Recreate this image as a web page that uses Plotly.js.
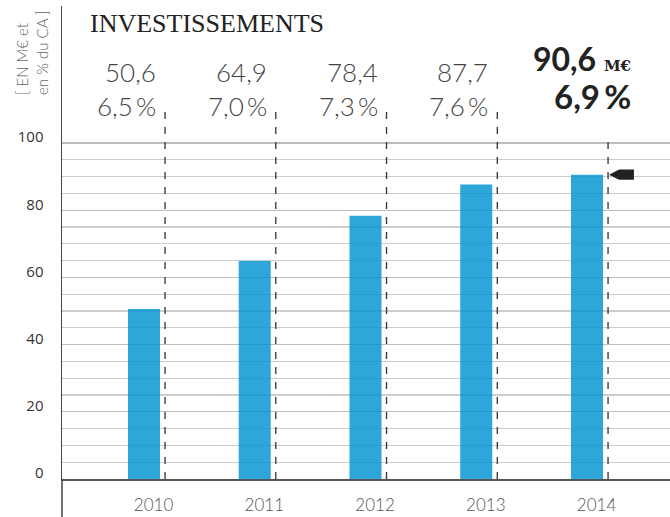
<!DOCTYPE html>
<html>
<head>
<meta charset="utf-8">
<script src="https://cdn.plot.ly/plotly-3.0.1.min.js"></script>
<style>html,body{margin:0;padding:0;background:#fff;}#chart{width:670px;height:517px;}</style>
</head>
<body>
<div id="chart"></div>
<script>
// ---- data ----
const years = ['2010', '2011', '2012', '2013', '2014'];
const invest = [50.6, 64.9, 78.4, 87.7, 90.6];
const investLabels = ['50,6', '64,9', '78,4', '87,7', '90,6'];
const pctLabels = ['6,5\u2009%', '7,0\u2009%', '7,3\u2009%', '7,6\u2009%', '6,9\u2009%'];
const yTickVals = [0, 20, 40, 60, 80, 100];
const yTickText = ['0', '20', '40', '60', '80', '100'];
const titleText = 'INVESTISSEMENTS';
const unitText = '[ EN M€ et<br>en % du CA ]';

// ---- style / layout constants ----
const xs = years.map((_, i) => i);
const dashOff = 0.19;      // dashed separator offset from bar centre
const labelOff = 0.086;    // year label offset from bar centre
const dashTop = 110.4;
const dashTopLast = 102.4;
const last = years.length - 1;

const minorVals = [];
for (let v = 5; v < 100; v += 5) if (v % 20 !== 0) minorVals.push(v);

const shapes = [];
xs.forEach((x, i) => {
  shapes.push({
    type: 'line', xref: 'x', yref: 'y',
    x0: x + dashOff, x1: x + dashOff, y0: 0, y1: i === last ? dashTopLast : dashTop,
    line: {color: '#333', width: 1.3, dash: '7px,8px'}, layer: 'above'
  });
});
// extension of the vertical axis below zero
shapes.push({type: 'line', xref: 'paper', yref: 'paper', x0: 0, x1: 0, y0: 0, y1: -0.09,
  line: {color: '#444', width: 1.5}});
// arrow marker at last value
const v = invest[last], h = 1.5;
const xt = last + 0.199, xa = last + 0.29, xb = last + 0.424;
shapes.push({type: 'path', xref: 'x', yref: 'y',
  path: `M ${xt},${v} L ${xa},${v + h} L ${xb},${v + h} L ${xb},${v - h} L ${xa},${v - h} Z`,
  fillcolor: '#222', line: {width: 0}, layer: 'above'});

const light = {family: 'Lato, "Open Sans", sans-serif', size: 26, color: '#444', weight: 300};
const annotations = [];
xs.forEach((x, i) => {
  if (i === last) return;
  annotations.push({x: x + dashOff, y: 121.1, xref: 'x', yref: 'y', text: investLabels[i],
    showarrow: false, xanchor: 'right', yanchor: 'middle', xshift: -7, font: light});
  annotations.push({x: x + dashOff, y: 111.0, xref: 'x', yref: 'y', text: pctLabels[i],
    showarrow: false, xanchor: 'right', yanchor: 'middle', xshift: -7, font: light});
});
const bold = {family: 'Lato, "DejaVu Sans", sans-serif', size: 32, color: '#222', weight: 700};
annotations.push({x: last + dashOff, y: 125.1, xref: 'x', yref: 'y',
  text: investLabels[last] + ' <span style="font-family:\'DejaVu Serif\';font-size:15px;font-weight:bold">M€</span>',
  showarrow: false, xanchor: 'right', yanchor: 'middle', xshift: 25, font: bold});
annotations.push({x: last + dashOff, y: 114.1, xref: 'x', yref: 'y', text: pctLabels[last],
  showarrow: false, xanchor: 'right', yanchor: 'middle', xshift: 25,
  font: Object.assign({}, bold, {size: 33})});
// title
annotations.push({x: 0.0428, y: 0.962, xref: 'paper', yref: 'paper', text: titleText,
  showarrow: false, xanchor: 'left', yanchor: 'middle',
  font: {family: '"Liberation Serif", serif', size: 26, color: '#222'}});
// unit label
annotations.push({x: 0, y: 1, xref: 'paper', yref: 'paper', text: unitText,
  showarrow: false, textangle: -90, xanchor: 'center', yanchor: 'middle', align: 'left',
  xshift: -30, yshift: -47,
  font: {family: 'Lato, sans-serif', size: 15, color: '#666', weight: 300}});

const trace = {
  type: 'bar', x: xs, y: invest, width: 0.289,
  marker: {color: 'rgba(0,146,209,0.82)', line: {width: 0}},
  hoverinfo: 'skip'
};

const layout = {
  width: 670, height: 517,
  margin: {l: 62, r: 0, t: 6, b: 38},
  paper_bgcolor: '#fff', plot_bgcolor: '#fff',
  showlegend: false,
  xaxis: {
    range: [-0.7404, 4.7494], fixedrange: true,
    tickmode: 'array', tickvals: xs.map(x => x + labelOff), ticktext: years,
    ticks: '', showgrid: false, zeroline: false,
    showline: true, linecolor: '#555', linewidth: 1.5,
    ticklabelstandoff: 10,
    tickfont: {family: 'Lato, sans-serif', size: 17, color: '#555', weight: 300}
  },
  yaxis: {
    range: [0, 140.8], fixedrange: true,
    tickmode: 'array', tickvals: yTickVals, ticktext: yTickText,
    ticks: '', showgrid: true, gridcolor: '#bdbdbd', gridwidth: 1.2,
    zeroline: false, showline: true, linecolor: '#444', linewidth: 1.5,
    ticklabelstandoff: 14, ticklabelshift: -6,
    tickfont: {family: '"Open Sans", sans-serif', size: 15, color: '#333'},
    minor: {tickmode: 'array', tickvals: minorVals, showgrid: true, gridcolor: '#cccccc', gridwidth: 1.2, ticks: ''}
  },
  shapes: shapes,
  annotations: annotations,
  hovermode: false
};

Plotly.newPlot('chart', [trace], layout, {displayModeBar: false, staticPlot: true});
</script>
</body>
</html>
